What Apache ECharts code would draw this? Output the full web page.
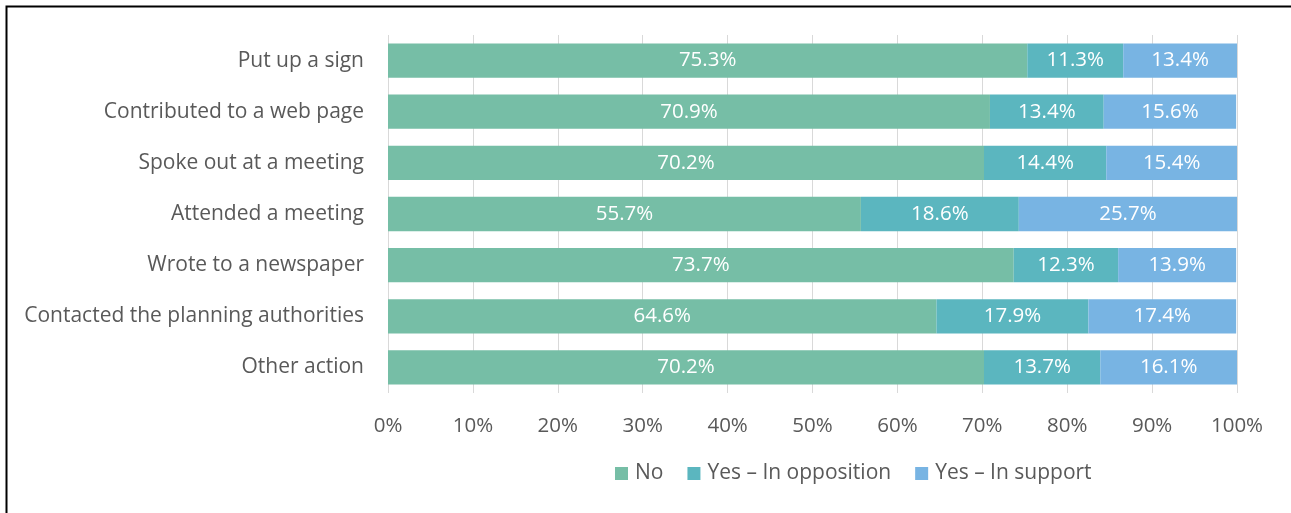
<!DOCTYPE html>
<html>
<head>
<meta charset="utf-8">
<script src="https://cdn.jsdelivr.net/npm/echarts@6/dist/echarts.min.js"></script>
<style>
    html, body { margin: 0; padding: 0; background: #fff; }
    #box1 { width: 1291px; height: 513px; }
</style>
</head>
<body>
<div id="box1"></div>
<script>
var categories = ['Put up a sign', 'Contributed to a web page', 'Spoke out at a meeting', 'Attended a meeting',
    'Wrote to a newspaper', 'Contacted the planning authorities', 'Other action'];
var seriesNames = ['No', 'Yes \u2013 In opposition', 'Yes \u2013 In support'];
var noVals = [75.3, 70.9, 70.2, 55.7, 73.7, 64.6, 70.2];
var oppositionVals = [11.3, 13.4, 14.4, 18.6, 12.3, 17.9, 13.7];
var supportVals = [13.4, 15.6, 15.4, 25.7, 13.9, 17.4, 16.1];
var colors = ['#76bea6', '#5bb6bf', '#78b4e3'];

var myChart = echarts.init(document.getElementById('box1'));

function makeSeries(name, data, color){
    return {
        name: name,
        type: 'bar',
        stack: 'total',
        barCategoryGap: '33%',
        data: data,
        itemStyle: { color: color },
        label: {
            show: true,
            position: 'inside',
            color: '#fff',
            fontSize: 20.5,
            fontFamily: 'Open Sans',
            formatter: function(p){ return p.value.toFixed(1) + '%'; }
        }
    };
}

var option = {
    animation: false,
    color: colors,
    textStyle: { fontFamily: 'Open Sans' },
    grid: { left: 388, right: 54, top: 35, bottom: 120, containLabel: false },
    graphic: [{
        type: 'rect',
        shape: { x: 6.5, y: 6.5, width: 1320, height: 540 },
        style: { fill: 'none', stroke: '#000', lineWidth: 2 }
    }],
    legend: {
        left: 610,
        top: 458,
        itemWidth: 13,
        itemHeight: 13,
        itemGap: 24,
        itemStyle: { borderWidth: 0 },
        icon: 'rect',
        textStyle: { color: '#595959', fontSize: 21, fontFamily: 'Open Sans', padding: [0, 0, 0, 2] },
        data: seriesNames
    },
    xAxis: {
        type: 'value',
        min: 0,
        max: 100,
        interval: 10,
        axisLine: { show: false },
        axisTick: { show: false },
        axisLabel: { color: '#595959', fontSize: 20.5, margin: 23, formatter: '{value}%' },
        splitLine: { lineStyle: { color: '#d9d9d9', width: 1 } }
    },
    yAxis: {
        type: 'category',
        inverse: true,
        data: categories,
        axisLine: { show: false },
        axisTick: { show: false },
        axisLabel: { color: '#595959', fontSize: 21, margin: 24 }
    },
    series: [
        makeSeries(seriesNames[0], noVals, colors[0]),
        makeSeries(seriesNames[1], oppositionVals, colors[1]),
        makeSeries(seriesNames[2], supportVals, colors[2])
    ]
};

myChart.setOption(option);
</script>
</body>
</html>
